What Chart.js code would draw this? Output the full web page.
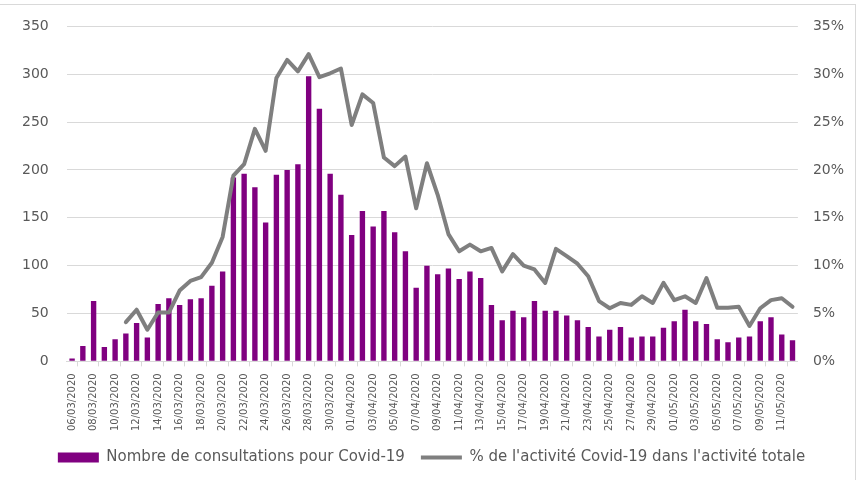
<!DOCTYPE html>
<html>
<head>
<meta charset="utf-8">
<script src="https://cdn.jsdelivr.net/npm/chart.js@4"></script>
<style>
  html, body { margin: 0; padding: 0; background: #fff; }
  #wrap { position: relative; width: 862px; height: 480px; }
  #frame { position: absolute; left: 0; top: 4px; width: 856px; height: 476px;
           border-top: 1px solid #d9d9d9; border-right: 1px solid #d9d9d9; box-sizing: border-box; }
</style>
</head>
<body>
<div id="wrap">
  <div id="frame"></div>
  <canvas id="chart" width="862" height="480"></canvas>
</div>
<script>
// Covid-19 consultations chart

// Dates (one per day, 06/03/2020 -> 12/05/2020)
const dates = [
  '06/03/2020', '07/03/2020', '08/03/2020', '09/03/2020', '10/03/2020', '11/03/2020', '12/03/2020',
  '13/03/2020', '14/03/2020', '15/03/2020', '16/03/2020', '17/03/2020', '18/03/2020', '19/03/2020',
  '20/03/2020', '21/03/2020', '22/03/2020', '23/03/2020', '24/03/2020', '25/03/2020', '26/03/2020',
  '27/03/2020', '28/03/2020', '29/03/2020', '30/03/2020', '31/03/2020', '01/04/2020', '02/04/2020',
  '03/04/2020', '04/04/2020', '05/04/2020', '06/04/2020', '07/04/2020', '08/04/2020', '09/04/2020',
  '10/04/2020', '11/04/2020', '12/04/2020', '13/04/2020', '14/04/2020', '15/04/2020', '16/04/2020',
  '17/04/2020', '18/04/2020', '19/04/2020', '20/04/2020', '21/04/2020', '22/04/2020', '23/04/2020',
  '24/04/2020', '25/04/2020', '26/04/2020', '27/04/2020', '28/04/2020', '29/04/2020', '30/04/2020',
  '01/05/2020', '02/05/2020', '03/05/2020', '04/05/2020', '05/05/2020', '06/05/2020', '07/05/2020',
  '08/05/2020', '09/05/2020', '10/05/2020', '11/05/2020', '12/05/2020'
];

// Nombre de consultations pour Covid-19
const consultations = [
  3, 16, 63, 15, 23, 29, 40, 25, 60, 66, 59, 65, 66, 79,
  94, 192, 196, 182, 145, 195, 200, 206, 298, 264, 196, 174, 132, 157,
  141, 157, 135, 115, 77, 100, 91, 97, 86, 94, 87, 59, 43, 53,
  46, 63, 53, 53, 48, 43, 36, 26, 33, 36, 25, 26, 26, 35,
  42, 54, 42, 39, 23, 20, 25, 26, 42, 46, 28, 22
];

// % de l'activité Covid-19 dans l'activité totale
const sharePct = [
  null, null, null, null, null, 4.1, 5.4, 3.3, 5.1, 5.1, 7.4, 8.4, 8.8, 10.3,
  13.0, 19.4, 20.6, 24.3, 22.0, 29.6, 31.5, 30.3, 32.1, 29.7, 30.1, 30.6, 24.7, 27.9,
  27.0, 21.3, 20.4, 21.4, 16.0, 20.7, 17.4, 13.3, 11.5, 12.2, 11.5, 11.85, 9.4, 11.2,
  10.0, 9.6, 8.2, 11.75, 11.0, 10.2, 8.9, 6.3, 5.55, 6.1, 5.9, 6.8, 6.1, 8.2,
  6.4, 6.8, 6.1, 8.7, 5.6, 5.6, 5.7, 3.7, 5.55, 6.4, 6.6, 5.7
];

const seriesLabels = ['Nombre de consultations pour Covid-19', "% de l'activité Covid-19 dans l'activité totale"];

const textColor = '#595959';
const gridColor = '#d9d9d9';
const fontFamily = '"DejaVu Sans", Verdana, sans-serif';

const ctx = document.getElementById('chart').getContext('2d');

new Chart(ctx, {
  type: 'bar',
  data: {
    labels: dates,
    datasets: [
      {
        type: 'bar',
        label: seriesLabels[0],
        data: consultations,
        backgroundColor: '#800080',
        barPercentage: 0.5,
        categoryPercentage: 1,
        yAxisID: 'y',
        order: 2
      },
      {
        type: 'line',
        label: seriesLabels[1],
        data: sharePct,
        borderColor: '#7f7f7f',
        backgroundColor: '#7f7f7f',
        borderWidth: 4,
        borderJoinStyle: 'round',
        borderCapStyle: 'round',
        pointRadius: 0,
        tension: 0,
        yAxisID: 'y1',
        order: 1
      }
    ]
  },
  options: {
    responsive: false,
    animation: false,
    layout: {
      padding: { top: 8, left: 4, right: 3, bottom: 5 }
    },
    scales: {
      x: {
        offset: true,
        grid: {
          offset: true,
          drawOnChartArea: false,
          tickLength: 5,
          color: (c) => (c.index % 2 === 1 ? gridColor : 'transparent')
        },
        border: { color: gridColor },
        ticks: {
          autoSkip: false,
          minRotation: 90,
          maxRotation: 90,
          padding: 7,
          color: textColor,
          font: { family: fontFamily, size: 10 },
          callback: function (value, index) {
            return index % 2 === 0 ? this.getLabelForValue(value) : '';
          }
        },
        // tighten the space between the date labels and the legend
        afterFit: (scale) => { scale.height -= 4; }
      },
      y: {
        position: 'left',
        min: 0,
        max: 350,
        border: { display: false },
        grid: { color: gridColor, drawTicks: false },
        ticks: {
          stepSize: 50,
          padding: 18,
          color: textColor,
          font: { family: fontFamily, size: 14 }
        }
      },
      y1: {
        position: 'right',
        min: 0,
        max: 35,
        border: { display: false },
        grid: { drawOnChartArea: false, drawTicks: false },
        ticks: {
          stepSize: 5,
          padding: 15,
          color: textColor,
          font: { family: fontFamily, size: 14 },
          callback: (v) => v + '%'
        }
      }
    },
    plugins: {
      tooltip: { enabled: false },
      legend: {
        position: 'bottom',
        labels: {
          usePointStyle: true,
          pointStyleWidth: 41,
          boxHeight: 10,
          padding: 16,
          color: textColor,
          font: { family: fontFamily, size: 15 },
          sort: (a, b) => a.datasetIndex - b.datasetIndex,
          generateLabels: (chart) => chart.data.datasets.map((ds, i) => ({
            text: ds.label,
            fillStyle: ds.backgroundColor,
            strokeStyle: ds.type === 'line' ? ds.borderColor : ds.backgroundColor,
            lineWidth: ds.type === 'line' ? 4 : 0,
            pointStyle: ds.type === 'line' ? 'line' : 'rect',
            fontColor: textColor,
            hidden: false,
            datasetIndex: i
          }))
        }
      }
    }
  }
});
</script>
</body>
</html>
